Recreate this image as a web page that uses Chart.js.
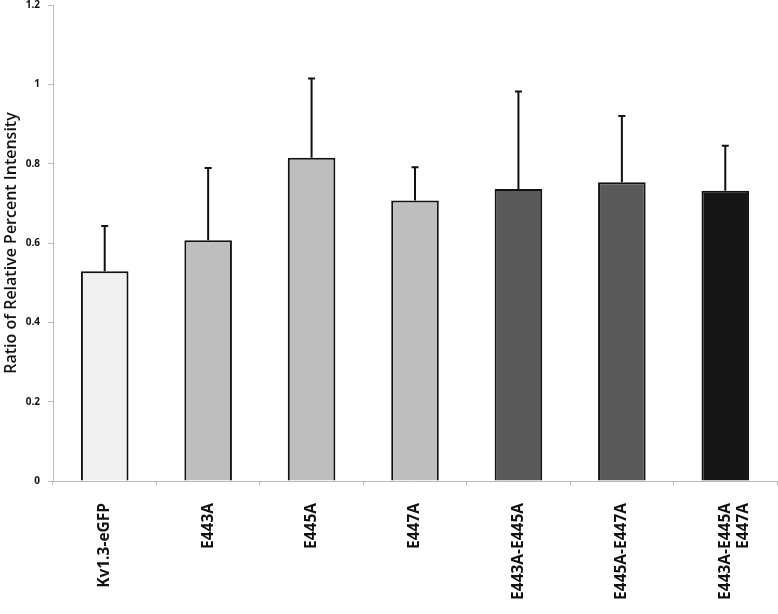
<!DOCTYPE html>
<html><head><meta charset="utf-8">
<script src="https://cdn.jsdelivr.net/npm/chart.js@4.4.0/dist/chart.umd.min.js"></script>
<style>html,body{margin:0;padding:0;background:#fff}#wrap{width:778px;height:614px;position:relative}</style>
</head><body><div id="wrap"><canvas id="c" width="778" height="614"></canvas></div>
<script>
const categories = ["Kv1.3-eGFP","E443A","E445A","E447A","E443A-E445A","E445A-E447A",["E443A-E445A","E447A"]];
const means = [0.529, 0.607, 0.815, 0.707, 0.736, 0.753, 0.732];
const errorTops = [0.643, 0.789, 1.015, 0.791, 0.982, 0.920, 0.845];
const barColors = ["#f0f0f0","#bebebe","#bebebe","#bebebe","#595959","#595959","#161616"];
const yTicks = [0, 0.2, 0.4, 0.6, 0.8, 1, 1.2];
const yTitle = "Ratio of Relative Percent Intensity";

const errorBars = {
  id: 'errorBars',
  afterDatasetsDraw(chart) {
    const ctx = chart.ctx, meta = chart.getDatasetMeta(0), y = chart.scales.y;
    ctx.save();
    ctx.strokeStyle = '#111'; ctx.lineWidth = 2;
    meta.data.forEach((bar, i) => {
      const yTop = y.getPixelForValue(errorTops[i]);
      const yBase = y.getPixelForValue(means[i]);
      ctx.beginPath();
      ctx.moveTo(bar.x, yBase); ctx.lineTo(bar.x, yTop);
      ctx.moveTo(bar.x - 3.5, yTop); ctx.lineTo(bar.x + 3.5, yTop);
      ctx.stroke();
    });
    ctx.restore();
  }
};

new Chart(document.getElementById('c'), {
  type: 'bar',
  data: { labels: categories, datasets: [{ data: means, backgroundColor: barColors, borderColor: '#111', borderWidth: 2, categoryPercentage: 0.92, barPercentage: 0.5 }] },
  options: {
    responsive: false, animation: false,
    layout: { padding: { top: 5, right: 1, left: 0, bottom: 0 } },
    plugins: { legend: { display: false }, tooltip: { enabled: false } },
    scales: {
      x: {
        grid: { display: true, drawOnChartArea: false, offset: true, tickLength: 4, color: '#bbb' },
        border: { display: true, color: '#bbb', width: 1 },
        ticks: { maxRotation: 90, minRotation: 90, padding: 18, color: '#111', font: { family: 'Open Sans', size: 15.5, weight: 'bold' } },
        afterFit(s) { s.height = 133; s.paddingLeft = 0; s.paddingRight = 0; }
      },
      y: {
        min: 0, max: 1.2,
        afterBuildTicks(s) { s.ticks = yTicks.map(v => ({ value: v })); },
        grid: { display: true, drawOnChartArea: false, tickLength: 5, color: '#bbb' },
        border: { display: true, color: '#bbb', width: 1 },
        ticks: { padding: 8, color: '#111', font: { family: 'Open Sans', size: 10, weight: 'bold' }, callback: v => String(v) },
        title: { display: true, text: yTitle, color: '#111', padding: { top: 2, bottom: 0 }, font: { family: 'Open Sans', size: 16, weight: '600' } },
        afterFit(s) { s.width = 53; s.paddingTop = 0; s.paddingBottom = 0; }
      }
    }
  },
  plugins: [errorBars]
});
</script></body></html>
